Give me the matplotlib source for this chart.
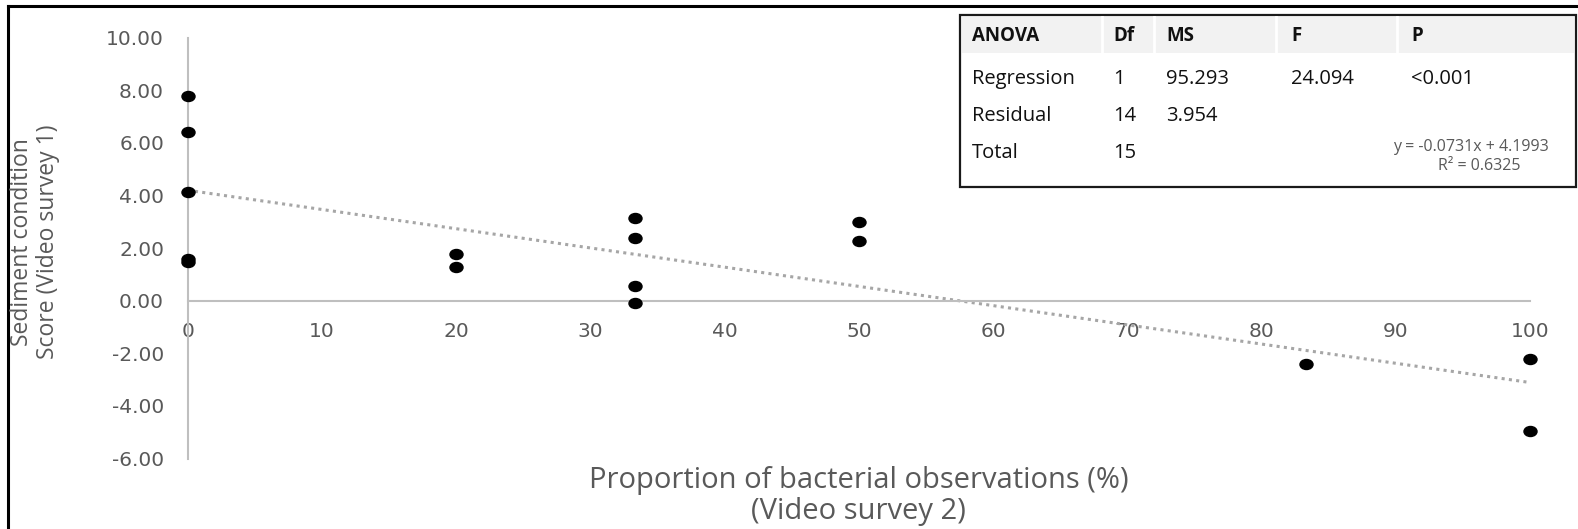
import matplotlib
matplotlib.use("Agg")
import matplotlib.pyplot as plt
import numpy as np
from matplotlib.path import Path
from matplotlib.transforms import Affine2D
from matplotlib.patches import Rectangle
from matplotlib.lines import Line2D

plt.rcParams['axes.unicode_minus'] = False

# data
prop_bact = [0, 0, 0, 0, 0, 20, 20, 33.33, 33.33, 33.33, 33.33, 50, 50, 83.33, 100, 100]
sed_score = [7.8, 6.4, 4.15, 1.6, 1.48, 1.77, 1.3, 3.15, 2.4, 0.55, -0.1, 2.98, 2.26, -2.42, -2.2, -4.95]
slope = -0.0731
intercept = 4.1993
r2 = 0.6325

x_ticks = list(range(0, 101, 10))
y_ticks = list(range(-6, 11, 2))

anova_header = ['ANOVA', 'Df', 'MS', 'F', 'P']
anova_rows = [['Regression', '1', '95.293', '24.094', '<0.001'],
              ['Residual', '14', '3.954', '', ''],
              ['Total', '15', '', '', '']]

W, H = 1578, 529
fig = plt.figure(figsize=(W / 100, H / 100), dpi=100)

def fx(px):
    return px / W

def fy(py):
    return 1 - py / H

grey_txt = '#595959'
title_font = ['Open Sans', 'DejaVu Sans']

# plot area in pixels
x0, x1 = 187.7, 1530
ytop, ybot = 37.7, 458.5
ax = fig.add_axes([fx(x0), fy(ybot), fx(x1) - fx(x0), fy(ytop) - fy(ybot)])
ax.set_xlim(0, 100)
ax.set_ylim(-6, 10)
ax.patch.set_alpha(0)

for s in ['top', 'right']:
    ax.spines[s].set_visible(False)
ax.spines['bottom'].set_position(('data', 0))
ax.spines['bottom'].set_color('#bfbfbf')
ax.spines['left'].set_color('#bfbfbf')
ax.spines['bottom'].set_linewidth(1.5)
ax.spines['left'].set_linewidth(1.5)

ax.set_xticks(x_ticks)
ax.set_yticks(y_ticks)
ax.set_yticklabels(['%.2f' % v for v in y_ticks])
ax.tick_params(axis='both', length=0, colors=grey_txt, labelsize=14.5)
ax.tick_params(axis='x', pad=15)
ax.tick_params(axis='y', pad=17)

# trendline
xs = np.array([0, 100])
ax.plot(xs, intercept + slope * xs, color='#a6a6a6', lw=2.2,
        linestyle=(0, (1, 1.4)), zorder=2)

# slightly wide dots like in the picture
ell = Path.unit_circle().transformed(Affine2D().scale(1.3, 1.0))
ax.scatter(prop_bact, sed_score, marker=ell, s=88, color='black', zorder=3,
           clip_on=False)

# axis titles
fig.text(fx((x0 + x1) / 2), fy(496), 'Proportion of bacterial observations (%)\n(Video survey 2)',
         ha='center', va='center', fontsize=21, color=grey_txt, family=title_font,
         linespacing=1.12)
fig.text(fx(35), fy(242), 'Sediment condition\nScore (Video survey 1)',
         ha='center', va='center', rotation=90, fontsize=16.5, color=grey_txt,
         family=title_font, linespacing=1.1)

# outer frame (only left and top visible)
fig.add_artist(Line2D([fx(8), fx(8)], [0, fy(6)], color='black', lw=2.2))
fig.add_artist(Line2D([fx(8), 1], [fy(6), fy(6)], color='black', lw=2.2))

# ANOVA table
tl, tr, tt, tb = 960, 1576, 15, 187
col_x = [972, 1113, 1166, 1291, 1411]
sep_x = [1102, 1154, 1276, 1397]
fig.add_artist(Rectangle((fx(tl), fy(tb)), fx(tr) - fx(tl), fy(tt) - fy(tb),
                         facecolor='white', edgecolor='#1a1a1a', lw=1.6, zorder=5))
fig.add_artist(Rectangle((fx(tl + 2), fy(53)), fx(tr - 2) - fx(tl + 2), fy(17) - fy(53),
                         facecolor='#f2f2f2', edgecolor='none', zorder=6))
for sx in sep_x:
    fig.add_artist(Line2D([fx(sx), fx(sx)], [fy(53), fy(17)], color='white', lw=2, zorder=7))

for cx, t in zip(col_x, anova_header):
    fig.text(fx(cx), fy(36), t, ha='left', va='center', fontsize=13.5,
             fontweight='bold', color='#111111', family=title_font, zorder=8)
row_y = [79, 116, 153]
for ry, row in zip(row_y, anova_rows):
    for cx, t in zip(col_x, row):
        if t:
            fig.text(fx(cx), fy(ry), t, ha='left', va='center', fontsize=14.5,
                     color='#111111', family=title_font, zorder=8)

fig.text(fx(1471), fy(147), 'y = %.4fx + %.4f' % (slope, intercept), ha='center', va='center',
         fontsize=11.5, color=grey_txt, family=title_font, zorder=8)
fig.text(fx(1479), fy(166), 'R² = %.4f' % r2, ha='center', va='center',
         fontsize=11.5, color=grey_txt, family=title_font, zorder=8)

fig.savefig('out.png', dpi=100, facecolor='white')
